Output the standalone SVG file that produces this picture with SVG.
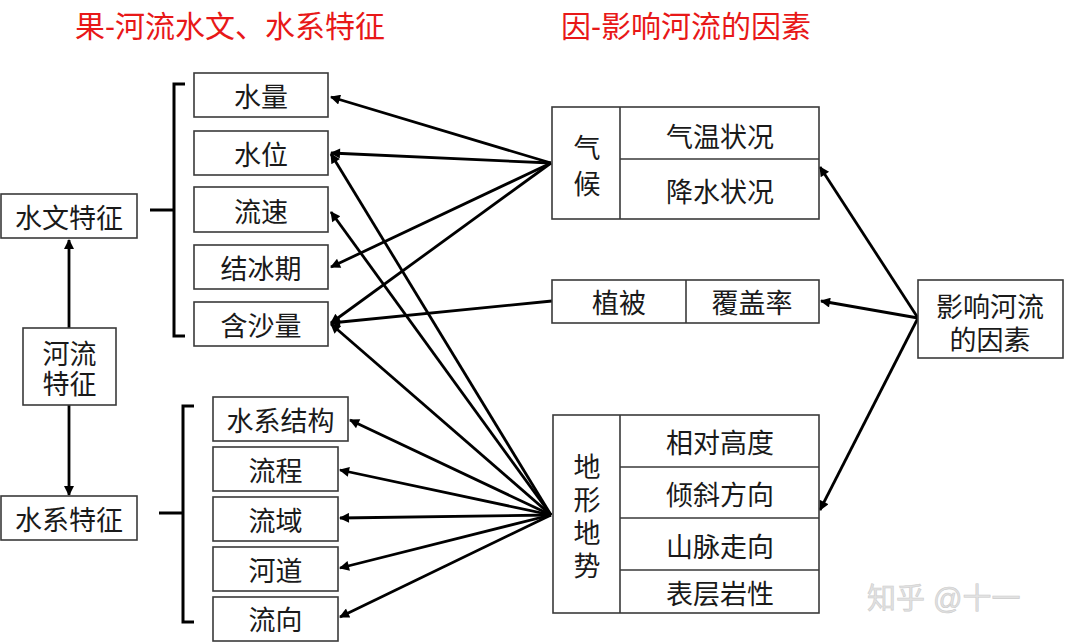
<svg xmlns="http://www.w3.org/2000/svg" width="1065" height="642" viewBox="0 0 1065 642">
<style>
.bg{fill:#ffffff}
.box{fill:#ffffff;stroke:#3a3a3a;stroke-width:1.6}
.div{stroke:#3a3a3a;stroke-width:1.6;fill:none}
.t{font-family:"Liberation Sans","Noto Sans CJK SC",sans-serif;font-size:27px;fill:#1a1a1a;text-anchor:middle;dominant-baseline:central}
.title{font-family:"Liberation Sans","Noto Sans CJK SC",sans-serif;font-size:30px;fill:#e81818;dominant-baseline:central}
.wm{font-family:"Liberation Sans","Noto Sans CJK SC",sans-serif;font-size:29px;fill:#e2e2e2;stroke:#cccccc;stroke-width:0.6;dominant-baseline:central}
.ar{stroke:#000;stroke-width:2.8;fill:none;marker-end:url(#ah)}
.br{stroke:#000;stroke-width:3;fill:none}
</style>
<defs>
<marker id="ah" viewBox="0 0 10 10" refX="9" refY="5" markerWidth="13" markerHeight="10" markerUnits="userSpaceOnUse" orient="auto">
<path d="M0,0 L10,5 L0,10 z" fill="#000"/>
</marker>
</defs>
<rect class="bg" x="0" y="0" width="1065" height="642"/>
<g id="titles">
<text class="title" x="75" y="26">果-河流水文、水系特征</text>
<text class="title" x="561" y="26">因-影响河流的因素</text>
</g>
<g id="connectors">
<line class="ar" x1="69" y1="328" x2="69" y2="240"/>
<line class="ar" x1="69" y1="405" x2="69" y2="495"/>
<path class="br" d="M185,84 H174 V336 H185 M150,210 H174"/>
<path class="br" d="M194,406 H183 V622 H194 M159,513 H183"/>
<line class="ar" x1="918" y1="318" x2="820" y2="167"/>
<line class="ar" x1="918" y1="318" x2="821" y2="301"/>
<line class="ar" x1="918" y1="318" x2="820" y2="510"/>
<line class="ar" x1="551" y1="163" x2="331" y2="97"/>
<line class="ar" x1="551" y1="163" x2="331" y2="153"/>
<line class="ar" x1="551" y1="163" x2="331" y2="267"/>
<line class="ar" x1="551" y1="163" x2="331" y2="323"/>
<line class="ar" x1="552" y1="301" x2="331" y2="323"/>
<line class="ar" x1="551" y1="515" x2="331" y2="154"/>
<line class="ar" x1="551" y1="515" x2="331" y2="212"/>
<line class="ar" x1="551" y1="515" x2="331" y2="324"/>
<line class="ar" x1="551" y1="515" x2="350" y2="420"/>
<line class="ar" x1="551" y1="515" x2="340" y2="470"/>
<line class="ar" x1="551" y1="515" x2="340" y2="518"/>
<line class="ar" x1="551" y1="515" x2="340" y2="568"/>
<line class="ar" x1="551" y1="515" x2="340" y2="617"/>
</g>
<g id="n-shuiwen"><rect class="box" x="1" y="194" width="136" height="44"/><text class="t" x="69" y="219">水文特征</text></g>
<g id="n-heliu"><rect class="box" x="23" y="328" width="93" height="77"/><text class="t" x="69.5" y="355">河流<tspan x="69.5" dy="30">特征</tspan></text></g>
<g id="n-shuixi"><rect class="box" x="1" y="496" width="136" height="44"/><text class="t" x="69" y="521">水系特征</text></g>
<g id="n-shuiliang"><rect class="box" x="194" y="73" width="134" height="44"/><text class="t" x="261" y="98">水量</text></g>
<g id="n-shuiwei"><rect class="box" x="194" y="131" width="134" height="44"/><text class="t" x="261" y="156">水位</text></g>
<g id="n-liusu"><rect class="box" x="194" y="187" width="134" height="45"/><text class="t" x="261" y="212.5">流速</text></g>
<g id="n-jiebingqi"><rect class="box" x="194" y="245" width="134" height="44"/><text class="t" x="261" y="270">结冰期</text></g>
<g id="n-hanshaliang"><rect class="box" x="194" y="302" width="134" height="44"/><text class="t" x="261" y="327">含沙量</text></g>
<g id="n-shuixijiegou"><rect class="box" x="213" y="397" width="135" height="44"/><text class="t" x="280.5" y="422">水系结构</text></g>
<g id="n-liucheng"><rect class="box" x="213" y="447" width="125" height="44"/><text class="t" x="275.5" y="472">流程</text></g>
<g id="n-liuyu"><rect class="box" x="213" y="497" width="125" height="44"/><text class="t" x="275.5" y="522">流域</text></g>
<g id="n-hedao"><rect class="box" x="213" y="547" width="125" height="44"/><text class="t" x="275.5" y="572">河道</text></g>
<g id="n-liuxiang"><rect class="box" x="213" y="597" width="125" height="44"/><text class="t" x="275.5" y="621">流向</text></g>
<g id="n-qihou">
<rect class="box" x="552" y="107" width="267" height="112"/>
<path class="div" d="M620,107 V219 M620,159 H819"/>
<text class="t" x="587" y="149">气<tspan x="587" dy="36">候</tspan></text>
<text class="t" x="720" y="138">气温状况</text>
<text class="t" x="720" y="193">降水状况</text>
</g>
<g id="n-zhibei">
<rect class="box" x="552" y="280" width="267" height="43"/>
<path class="div" d="M686,280 V323"/>
<text class="t" x="619" y="304">植被</text>
<text class="t" x="752" y="304">覆盖率</text>
</g>
<g id="n-dixing">
<rect class="box" x="553" y="415" width="266" height="198"/>
<path class="div" d="M620,415 V613 M620,467 H819 M620,518 H819 M620,570 H819"/>
<text class="t" x="587" y="468">地<tspan x="587" dy="33">形</tspan><tspan x="587" dy="33">地</tspan><tspan x="587" dy="33">势</tspan></text>
<text class="t" x="720" y="444">相对高度</text>
<text class="t" x="720" y="496">倾斜方向</text>
<text class="t" x="720" y="548">山脉走向</text>
<text class="t" x="720" y="595">表层岩性</text>
</g>
<g id="n-yingxiang">
<rect class="box" x="918" y="280" width="145" height="78"/>
<text class="t" x="990" y="308">影响河流<tspan x="990" dy="33">的因素</tspan></text>
</g>
<g id="watermark"><text class="wm" x="867" y="599">知乎 @十一</text></g>
</svg>
